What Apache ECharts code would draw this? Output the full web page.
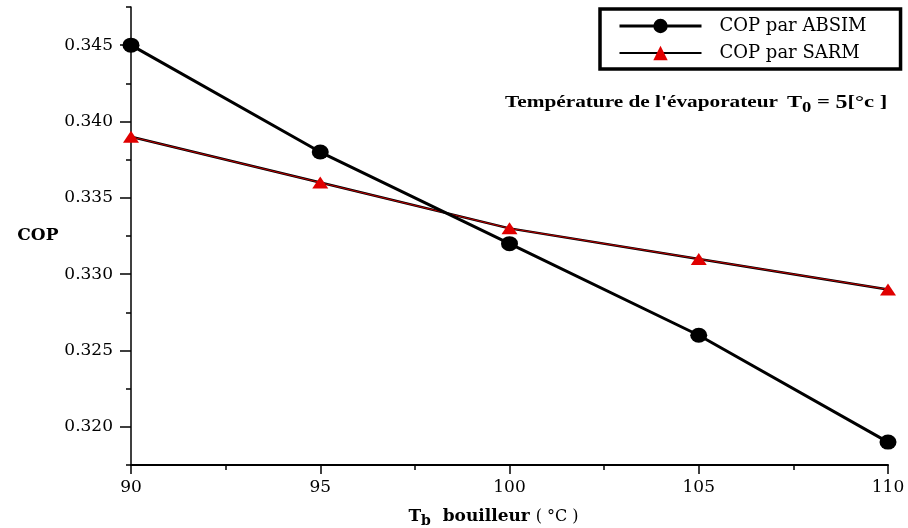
<!DOCTYPE html>
<html>
<head>
<meta charset="utf-8">
<script src="https://cdn.jsdelivr.net/npm/echarts@6/dist/echarts.min.js"></script>
<style>html,body{margin:0;padding:0;background:#fff}#c{width:908px;height:528px}</style>
</head>
<body>
<div id="c"></div>
<script>
const tb = [90, 95, 100, 105, 110];
const copAbsim = [0.345, 0.338, 0.332, 0.326, 0.319];
const copSarm = [0.339, 0.336, 0.333, 0.331, 0.329];
const xMajorTicks = [90, 95, 100, 105, 110];
const xMinorTicks = [92.5, 97.5, 102.5, 107.5];
const yMajorTicks = [0.320, 0.325, 0.330, 0.335, 0.340, 0.345];
const yMinorTicks = [0.3175, 0.3225, 0.3275, 0.3325, 0.3375, 0.3425, 0.3475];

const serif = '"Liberation Serif", "DejaVu Serif", serif';
const wide = '"DejaVu Serif", "Liberation Serif", serif';
const chart = echarts.init(document.getElementById('c'));
const pairs = arr => tb.map((x, i) => [x, arr[i]]);

chart.setOption({
  backgroundColor: '#fff',
  animation: false,
  grid: { left: 131, right: 20, top: 7, bottom: 63, outerBoundsMode: 'none' },
  legend: {
    orient: 'vertical', left: 600, top: 9,
    padding: [8, 34, 7, 18],
    borderColor: '#000', borderWidth: 3.5,
    itemWidth: 82, itemHeight: 18, itemGap: 9,
    textStyle: { fontFamily: wide, fontSize: 18, color: '#000', padding: [0, 0, 0, 13] },
    data: [
      { name: 'COP par ABSIM', lineStyle: { width: 3, color: '#000' } },
      { name: 'COP par SARM', lineStyle: { width: 2, color: '#000' } }
    ]
  },
  xAxis: [{
    type: 'value', min: 90, max: 110,
    splitLine: { show: false },
    axisLine: { lineStyle: { color: '#000', width: 2 } },
    axisTick: { customValues: xMajorTicks, length: 9, lineStyle: { color: '#000', width: 1.5 } },
    axisLabel: { customValues: xMajorTicks, fontFamily: wide, fontSize: 17, color: '#000', margin: 14 },
    name: 'T{sub|b}  bouilleur {n|( °C )}',
    nameLocation: 'middle', nameGap: 41,
    nameTextStyle: {
      fontFamily: wide, fontSize: 17, fontWeight: 'bold', color: '#000',
      padding: [0, 32, 0, 0],
      rich: {
        sub: { fontFamily: wide, fontSize: 14, fontWeight: 'bold', verticalAlign: 'bottom', padding: [8, 0, 0, 0] },
        n: { fontFamily: wide, fontSize: 16, fontWeight: 'normal' }
      }
    }
  }, {
    type: 'value', min: 90, max: 110, position: 'bottom',
    splitLine: { show: false },
    axisLine: { show: false },
    axisTick: { customValues: xMinorTicks, length: 5, lineStyle: { color: '#000', width: 1.5 } },
    axisLabel: { show: false }
  }],
  yAxis: [{
    type: 'value', min: 0.3175, max: 0.3475,
    splitLine: { show: false },
    axisLine: { show: true, lineStyle: { color: '#000', width: 1.5 } },
    axisTick: { customValues: yMajorTicks, length: 11, lineStyle: { color: '#000', width: 1.5 } },
    axisLabel: { customValues: yMajorTicks, formatter: v => v.toFixed(3), fontFamily: wide, fontSize: 17, color: '#000', margin: 18 },
    name: 'COP', nameLocation: 'middle', nameRotate: 0, nameGap: 68,
    nameTextStyle: { fontFamily: wide, fontSize: 17, fontWeight: 'bold', color: '#000' }
  }, {
    type: 'value', min: 0.3175, max: 0.3475, position: 'left',
    splitLine: { show: false },
    axisLine: { show: false },
    axisTick: { customValues: yMinorTicks, length: 5, lineStyle: { color: '#000', width: 1.5 } },
    axisLabel: { show: false }
  }],
  graphic: [{
    type: 'text', left: 505, top: 94, scaleX: 1.33,
    style: {
      text: "{a|Température de l'évaporateur}  {b|T}{s|0}{b| = }{c|5}{b|[°c ]}",
      fill: '#000',
      rich: {
        a: { fontFamily: serif, fontSize: 16, fontWeight: 'bold', fill: '#000' },
        b: { fontFamily: serif, fontSize: 17, fontWeight: 'bold', fill: '#000' },
        s: { fontFamily: serif, fontSize: 14, fontWeight: 'bold', fill: '#000', verticalAlign: 'bottom', padding: [10, 0, 0, 0] },
        c: { fontFamily: serif, fontSize: 18, fontWeight: 'bold', fill: '#000' }
      }
    }
  }],
  series: [{
    name: 'COP par ABSIM', type: 'line', data: pairs(copAbsim),
    symbol: 'circle', symbolSize: [17, 15],
    lineStyle: { color: '#000', width: 3 },
    itemStyle: { color: '#000' },
    z: 3
  }, {
    name: 'COP par SARM', type: 'line', data: pairs(copSarm),
    symbol: 'triangle', symbolSize: [16, 12],
    lineStyle: { color: '#000', width: 2.5 },
    itemStyle: { color: '#e00000' },
    z: 2
  }, {
    name: 'SARM-red', type: 'line', data: pairs(copSarm),
    symbol: 'none', silent: true,
    lineStyle: { color: '#c00000', width: 1 },
    z: 2
  }]
});
</script>
</body>
</html>
